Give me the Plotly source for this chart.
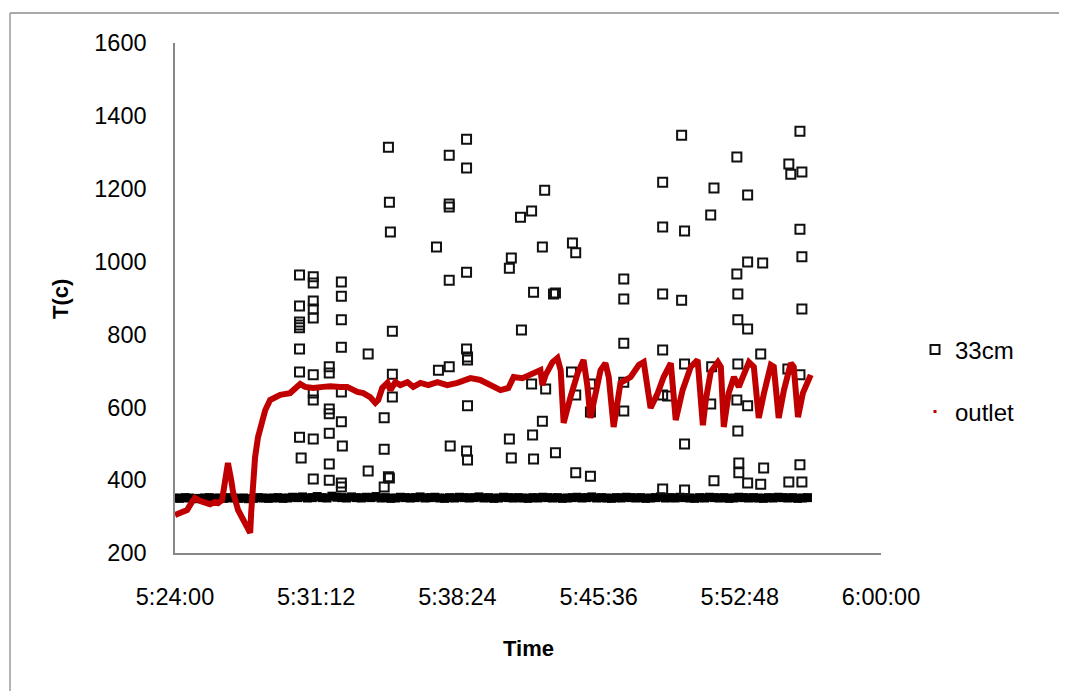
import plotly.graph_objects as go
import pandas as pd

DAY = "2000-01-01 "

# ---- 33cm: scattered readings (time, T) ----
t33 = [
    "5:30:21", "5:30:21", "5:30:21", "5:30:21", "5:30:21", "5:30:21", "5:30:21", "5:30:21", "5:30:26",
    "5:31:03", "5:31:03", "5:31:03", "5:31:03", "5:31:03", "5:31:03", "5:31:03", "5:31:03", "5:31:03", "5:31:03",
    "5:31:52", "5:31:52", "5:31:52", "5:31:52", "5:31:52", "5:31:52", "5:31:52",
    "5:32:29", "5:32:29", "5:32:29", "5:32:29", "5:32:29", "5:32:29", "5:32:32", "5:32:29", "5:32:29",
    "5:33:51", "5:33:51",
    "5:34:40", "5:34:40", "5:34:40",
    "5:34:53", "5:34:56", "5:34:59", "5:34:53", "5:34:56",
    "5:35:05", "5:35:05", "5:35:05",
    "5:37:20", "5:37:26",
    "5:37:59", "5:37:59", "5:37:59", "5:37:59", "5:37:59", "5:38:02",
    "5:38:52", "5:38:52", "5:38:52", "5:38:52", "5:38:55", "5:38:55", "5:38:55", "5:38:52", "5:38:55",
    "5:41:09", "5:41:03", "5:41:03", "5:41:09",
    "5:41:37", "5:41:40",
    "5:42:11", "5:42:17", "5:42:11", "5:42:14", "5:42:17",
    "5:42:51", "5:42:44", "5:42:54", "5:42:44",
    "5:43:24", "5:43:18", "5:43:24",
    "5:44:16", "5:44:26", "5:44:13", "5:44:26", "5:44:26",
    "5:45:11", "5:45:11", "5:45:11",
    "5:46:53", "5:46:53", "5:46:53", "5:46:53", "5:46:53",
    "5:48:52", "5:48:52", "5:48:52", "5:48:52", "5:48:52", "5:48:52",
    "5:49:07",
    "5:49:50", "5:49:59", "5:49:50", "5:49:59", "5:49:59", "5:49:59",
    "5:51:29", "5:51:19", "5:51:22", "5:51:19", "5:51:29",
    "5:52:39", "5:52:39", "5:52:42", "5:52:42", "5:52:42", "5:52:39", "5:52:42", "5:52:45", "5:52:45",
    "5:53:12", "5:53:12", "5:53:12", "5:53:12", "5:53:12",
    "5:53:58", "5:53:52", "5:54:01", "5:53:52",
    "5:55:18", "5:55:24", "5:55:15", "5:55:18",
    "5:55:52", "5:55:58", "5:55:52", "5:55:58", "5:55:58", "5:55:52", "5:55:52", "5:55:58",
]
v33 = [
    963, 878, 834, 826, 818, 760, 697, 518, 461,
    958, 941, 892, 870, 845, 689, 639, 620, 513, 403,
    711, 694, 595, 582, 529, 444, 400,
    944, 905, 840, 765, 642, 560, 494, 392, 381,
    746, 425,
    571, 485, 381,
    1314, 1163, 1081, 409, 406,
    809, 691, 628,
    1040, 702,
    1292, 1158, 1150, 949, 711, 494,
    1336, 1257, 971, 760, 738, 730, 604, 480, 455,
    1010, 982, 513, 461,
    1122, 812,
    1139, 916, 664, 524, 458,
    1196, 1040, 650, 562,
    914, 911, 475,
    1051, 1024, 697, 634, 420,
    664, 587, 411,
    952, 897, 776, 669, 590,
    1218, 1095, 911, 757, 634, 376,
    631,
    1347, 1084, 894, 719, 499, 373,
    1202, 1128, 711, 609, 398,
    1287, 966, 911, 840, 719, 620, 535, 447, 420,
    1183, 999, 815, 604, 392,
    996, 746, 433, 389,
    1268, 1240, 705, 395,
    1358, 1246, 1089, 1013, 870, 689, 442, 395,
]

# ---- 33cm: dense baseline readings, logged every 15 s from 5:24:00 ----
base_start = "5:24:00"
base_step = "15s"
v33_base = [
    351, 350, 352, 351, 349, 350, 351, 352, 350, 351,
    350, 352, 351, 350, 351, 349, 350, 352, 351, 350,
    351, 352, 350, 351, 353, 352, 354, 351, 352, 355,
    352, 351, 356, 353, 352, 351, 354, 352, 351, 353,
    352, 355, 351, 352, 350, 351, 353, 352, 351, 352,
    354, 351, 352, 353, 351, 350, 352, 351, 353, 352,
    351, 352, 354, 351, 352, 350, 351, 353, 352, 351,
    352, 351, 350, 352, 351, 353, 352, 351, 352, 350,
    351, 352, 353, 351, 352, 354, 351, 352, 351, 350,
    352, 351, 353, 352, 351, 352, 350, 351, 352, 354,
    351, 352, 351, 353, 352, 351, 350, 352, 351, 353,
    352, 351, 352, 350, 351, 353, 352, 351, 352, 351,
    350, 352, 351, 353, 352, 351, 352, 350, 351, 352,
]

# ---- outlet ----
t_out = [
    "5:24:00", "5:24:21", "5:24:37", "5:24:52", "5:25:01", "5:25:17", "5:25:32", "5:25:47",
    "5:26:03", "5:26:12", "5:26:24", "5:26:33", "5:26:42", "5:26:52", "5:26:58", "5:27:13",
    "5:27:28", "5:27:50", "5:27:53", "5:27:59", "5:28:05", "5:28:14", "5:28:36", "5:28:51",
    "5:29:22", "5:29:52", "5:30:23", "5:30:38", "5:31:03", "5:31:33", "5:31:55", "5:32:26",
    "5:32:47", "5:33:18", "5:33:36", "5:33:57", "5:34:13", "5:34:22", "5:34:34", "5:34:50",
    "5:34:59", "5:35:14", "5:35:29", "5:35:51", "5:36:09", "5:36:31", "5:36:55", "5:37:23",
    "5:37:53", "5:38:24", "5:38:33", "5:39:04", "5:39:34", "5:40:05", "5:40:36", "5:41:00",
    "5:41:16", "5:41:43", "5:42:08", "5:42:23", "5:42:38", "5:42:44", "5:42:54", "5:43:15",
    "5:43:30", "5:43:40", "5:43:49", "5:44:10", "5:44:32", "5:44:50", "5:45:02", "5:45:11",
    "5:45:27", "5:45:42", "5:45:57", "5:46:07", "5:46:22", "5:46:34", "5:46:43", "5:47:14",
    "5:47:39", "5:47:54", "5:48:06", "5:48:15", "5:48:37", "5:48:55", "5:49:17", "5:49:26",
    "5:49:32", "5:49:53", "5:50:18", "5:50:39", "5:50:48", "5:50:55", "5:51:04", "5:51:19",
    "5:51:41", "5:51:50", "5:51:59", "5:52:14", "5:52:30", "5:52:45", "5:52:57", "5:53:16",
    "5:53:31", "5:53:46", "5:54:02", "5:54:23", "5:54:32", "5:54:47", "5:55:03", "5:55:24",
    "5:55:33", "5:55:46", "5:56:01", "5:56:16", "5:56:25",
]
v_out = [
    304, 310, 318, 340, 351, 343, 340, 334,
    340, 337, 345, 400, 447, 400, 365, 318,
    291, 255, 310, 400, 463, 518, 592, 620,
    634, 639, 664, 656, 653, 656, 658, 656,
    656, 642, 639, 628, 612, 620, 653, 667,
    647, 669, 661, 669, 656, 667, 661, 669,
    661, 667, 669, 680, 675, 661, 647, 653,
    683, 680, 689, 694, 702, 661, 689, 724,
    735, 702, 557, 628, 694, 730, 656, 571,
    647, 702, 721, 683, 546, 628, 667, 683,
    716, 724, 647, 598, 639, 683, 721, 647,
    565, 647, 711, 730, 628, 551, 620, 697,
    724, 711, 546, 639, 683, 656, 683, 724,
    711, 571, 639, 716, 711, 571, 647, 721,
    711, 573, 639, 675, 689,
]

# ---- axes ----
x_ticks = ["5:24:00", "5:31:12", "5:38:24", "5:45:36", "5:52:48", "6:00:00"]
y_ticks = [200, 400, 600, 800, 1000, 1200, 1400, 1600]


def to_dt(ts):
    return pd.to_datetime([DAY + t for t in ts])


x33 = to_dt(t33)
x_base = pd.date_range(DAY + base_start, periods=len(v33_base), freq=base_step)
x_out = to_dt(t_out)
x_tickvals = to_dt(x_ticks)

FONT = "Liberation Sans"
RED = "#C00000"
AXIS = "#878787"

fig = go.Figure()

fig.add_trace(go.Scatter(
    x=x_base, y=v33_base, mode="markers", showlegend=False, hoverinfo="skip",
    marker=dict(symbol="square", size=9, color="black", line=dict(width=0)),
))
fig.add_trace(go.Scatter(
    x=x33, y=v33, mode="markers", name="33cm", legend="legend",
    marker=dict(symbol="square-open", size=9, color="#111111", line=dict(width=2)),
))
fig.add_trace(go.Scatter(
    x=x_out, y=v_out, mode="lines", showlegend=False,
    line=dict(color=RED, width=6),
))
fig.add_trace(go.Scatter(
    x=[None], y=[None], mode="markers", name="outlet", legend="legend2",
    marker=dict(symbol="square", size=3, color=RED),
))

# page offset of the figure (browser body margin)
OFF = 8
W, H = 1067, 691
L, R, T, B = 175 - OFF, 881 - OFF, 43 - OFF, 553 - OFF
pw, ph = R - L, B - T


def px(x):
    return (x - OFF - L) / pw


def py(y):
    return (B - (y - OFF)) / ph


BORDER = dict(color="#8c8c8c", width=1.3)

fig.update_layout(
    width=W, height=H, autosize=False,
    margin=dict(l=L, r=W - R, t=T, b=H - B, pad=0),
    paper_bgcolor="white", plot_bgcolor="white",
    font=dict(family=FONT, size=23, color="black"),
    xaxis=dict(
        type="date", range=[x_tickvals[0], x_tickvals[-1]],
        tickvals=x_tickvals, ticktext=x_ticks,
        showline=True, linecolor=AXIS, linewidth=1.5,
        showgrid=False, zeroline=False,
        ticks="outside", ticklen=22, tickcolor="rgba(0,0,0,0)",
        tickfont=dict(family=FONT, size=23.5, color="black"),
    ),
    yaxis=dict(
        range=[200, 1600], tickvals=y_ticks,
        showline=True, linecolor=AXIS, linewidth=1.5,
        showgrid=False, zeroline=False,
        ticks="outside", ticklen=22, tickcolor="rgba(0,0,0,0)",
        tickfont=dict(family=FONT, size=23.5, color="black"),
    ),
    legend=dict(
        x=px(915), y=py(350), xanchor="left", yanchor="middle",
        bgcolor="rgba(0,0,0,0)", borderwidth=0,
        font=dict(family=FONT, size=24, color="black"),
    ),
    legend2=dict(
        x=px(915), y=py(412), xanchor="left", yanchor="middle",
        bgcolor="rgba(0,0,0,0)", borderwidth=0,
        font=dict(family=FONT, size=24, color="black"),
    ),
    annotations=[
        dict(text="<b>T(c)</b>", xref="paper", yref="paper", x=px(60), y=py(299),
             xanchor="center", yanchor="middle", showarrow=False, textangle=-90,
             font=dict(family=FONT, size=22, color="black")),
        dict(text="<b>Time</b>", xref="paper", yref="paper", x=px(528), y=py(648),
             xanchor="center", yanchor="middle", showarrow=False,
             font=dict(family=FONT, size=22, color="black")),
    ],
    shapes=[
        dict(type="line", xref="paper", yref="paper",
             x0=px(10), x1=px(1080), y0=py(13), y1=py(13), line=BORDER, layer="below"),
        dict(type="line", xref="paper", yref="paper",
             x0=px(10), x1=px(10), y0=py(13), y1=py(700), line=BORDER, layer="below"),
    ],
)

fig.write_html("out.html")
